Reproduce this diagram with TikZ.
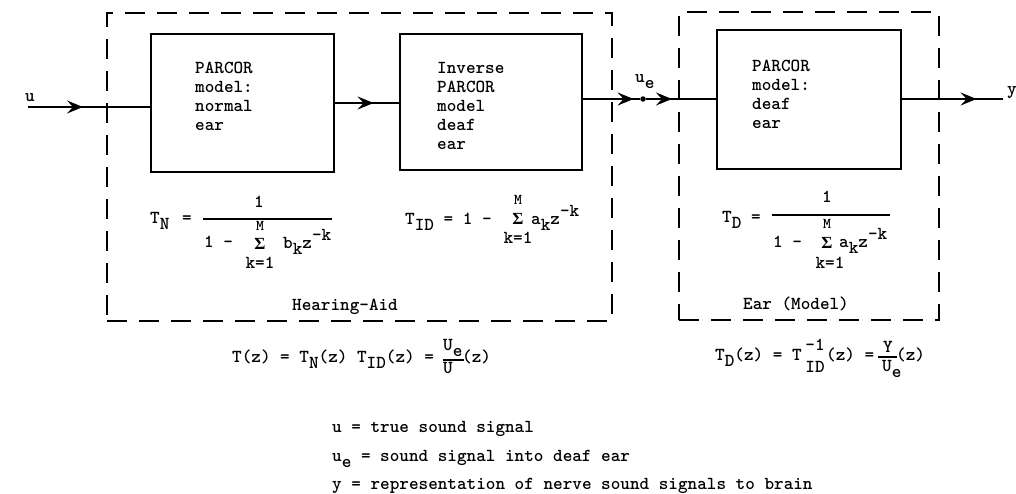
\documentclass[tikz,border=0pt]{standalone}
\usepackage{fontspec}
\newfontfamily\sigfont{Liberation Serif}
\usetikzlibrary{arrows.meta,decorations.markings}
\newcommand\sublo[1]{\raisebox{-0.38em}{#1}}
\newcommand\suphi[1]{\raisebox{0.4em}{#1}}
\newcommand\Sg{{\sigfont\bfseries\fontsize{17}{19}\selectfont Σ}}
\tikzset{
  every node/.style={font=\ttfamily\bfseries\fontsize{18.3}{19}\selectfont, inner sep=0pt},
  smallM/.style={font=\ttfamily\bfseries\fontsize{15}{16}\selectfont},
  blk/.style={draw, line width=1.6pt, minimum width=183pt, anchor=north west},
  grp/.style={draw, line width=1.5pt, dash pattern=on 20pt off 12pt, anchor=north west},
  sig/.style={line width=1.8pt},
  tipat/.style={postaction={decorate}, decoration={markings,
     mark=at position #1 with {\arrow{Stealth[length=16pt,width=13pt,inset=6pt]}}}},
  fracbar/.style={line width=1.4pt},
  txt/.style={anchor=north west, align=left}
}
\begin{document}
\begin{tikzpicture}[x=1pt,y=-1pt]
\useasboundingbox (0,0) rectangle (1016,493);

% dashed groups
\node[grp, minimum width=505pt, minimum height=308pt] (aid) at (106,12) {};
\node[grp, minimum width=260pt, minimum height=308pt] (earm) at (678,11) {};

% blocks
\node[blk, minimum height=138pt] (b1) at (150,33) {};
\node[blk, minimum height=136pt, minimum width=182pt] (b2) at (399,33) {};
\node[blk, minimum height=139pt, minimum width=184pt] (b3) at (716,29) {};

\node[txt] (t1) at (195,61) {\rule{0pt}{12pt}PARCOR\\model:\\normal\\ear};
\node[txt] (t2) at (437,61) {\rule{0pt}{12pt}Inverse\\PARCOR\\model\\deaf\\ear};
\node[txt] (t3) at (752,59) {\rule{0pt}{12pt}PARCOR\\model:\\deaf\\ear};

% signals
\coordinate (uin) at (28,107);
\node[anchor=base] (ulab) at (30,101) {u};
\draw[sig, tipat=55pt] (uin) -- (b1.west |- uin);
\draw[sig, tipat=39pt] (b1.east |- 0,103) -- (b2.west |- 0,103);
\node[circle, fill, minimum size=5.5pt] (uedot) at (643,99) {};
\node[anchor=base west] (uelab) at (635,82) {u\sublo{e}};
\draw[sig, tipat=51pt] (b2.east |- uedot) -- (uedot);
\draw[sig, tipat=26pt] (uedot) -- (b3.west |- uedot);
\coordinate (yout) at (1003,99);
\draw[sig, tipat=75pt] (b3.east |- yout) -- (yout);
\node[anchor=base] (ylab) at (1012,94) {y};

% T_N
\node[anchor=base west] (tnlhs) at (150,223) {T\sublo{N}\hspace{3pt} =};
\draw[fracbar] (203,219) -- (332,219);
\node (tnnum) at (259,202) {1};
\node[anchor=base west] (tnden) at (204,247) {1 -};
\node[smallM] (tnM) at (260,226) {M};
\node (tnsig) at (260,244) {\Sg};
\node (tnk) at (260,263) {k=1};
\node[anchor=base west] (tnbz) at (283,248) {b\sublo{k}z\suphi{-k}};

% T_ID
\node[anchor=base west] (tidlhs) at (405,224) {T\sublo{ID} = 1 -};
\node[smallM] (tidM) at (518,200) {M};
\node (tidsig) at (518,219) {\Sg};
\node (tidk) at (518,238) {k=1};
\node[anchor=base west] (tidaz) at (531,224) {a\sublo{k}z\suphi{-k}};

% T_D
\node[anchor=base west] (tdlhs) at (722,222) {T\sublo{D} =};
\draw[fracbar] (772,215) -- (890,215);
\node (tdnum) at (827,197) {1};
\node[anchor=base west] (tdden) at (773,247) {1 -};
\node[smallM] (tdM) at (827,224) {M};
\node (tdsig) at (827,243) {\Sg};
\node (tdk) at (830,263) {k=1};
\node[anchor=base west] (tdaz) at (839,247) {a\sublo{k}z\suphi{-k}};

% group labels
\node[anchor=base] (aidlab) at (345,310) {Hearing-Aid};
\node[anchor=base] (earlab) at (796,309) {Ear (Model)};

% T(z)
\node[anchor=base west] (tz) at (232,362) {T(z) = T\sublo{N}(z) T\sublo{ID}(z) =};
\node[anchor=base west] (tzue) at (443,350) {U\sublo{e}};
\draw[fracbar] (443,360) -- (464,360);
\node (tzu) at (448,368) {U};
\node[anchor=base west] (tzz) at (462,362) {(z)};

% T_D(z)
\node[anchor=base west] (tdz) at (715,360) {T\sublo{D}(z) = T};
\node (tdzm1) at (815,345) {-1};
\node (tdzid) at (815,367) {ID};
\node[anchor=base west] (tdzz) at (826,360) {(z) =};
\node (tdzy) at (888,347) {Y};
\draw[fracbar] (878,357) -- (897,357);
\node[anchor=base west] (tdzue) at (882,371) {U\sublo{e}};
\node[anchor=base west] (tdzz2) at (896,360) {(z)};

% legend
\node[anchor=base west] (lg1) at (332,432) {u = true sound signal};
\node[anchor=base west] (lg2) at (332,461) {u\sublo{e} = sound signal into deaf ear};
\node[anchor=base west] (lg3) at (332,489) {y = representation of nerve sound signals to brain};
\end{tikzpicture}
\end{document}
